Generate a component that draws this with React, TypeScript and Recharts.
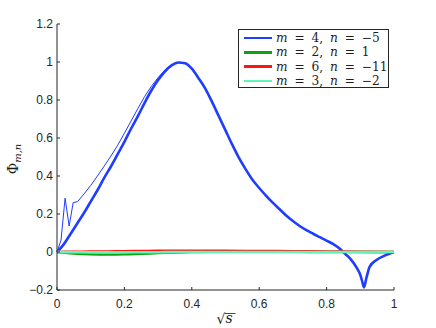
import { LineChart, Line, XAxis, YAxis, Legend } from "recharts";

const sTicks = [0, 0.2, 0.4, 0.6, 0.8, 1];
const phiTicks = [-0.2, 0, 0.2, 0.4, 0.6, 0.8, 1, 1.2];

const mValues = [4, 2, 6, 3];
const nValues = [-5, 1, -11, -2];
const seriesColors = ["#1f3dff", "#13a013", "#ff1414", "#60f5b8"];

// m = 4, n = -5 (thick)
const sMain = [
  0, 0.02, 0.04, 0.06, 0.08, 0.1, 0.12, 0.14, 0.16, 0.18, 0.2, 0.22, 0.24, 0.26,
  0.28, 0.3, 0.32, 0.34, 0.36, 0.38, 0.4, 0.42, 0.44, 0.46, 0.48, 0.5, 0.52,
  0.54, 0.56, 0.58, 0.6, 0.62, 0.64, 0.66, 0.68, 0.7, 0.72, 0.74, 0.76, 0.78,
  0.8, 0.82, 0.84, 0.85, 0.87, 0.89, 0.9, 0.905, 0.911, 0.918, 0.928, 0.948,
  0.972, 1,
];
const phiMain = [
  0, 0.04, 0.095, 0.15, 0.205, 0.265, 0.325, 0.39, 0.45, 0.515, 0.58, 0.65,
  0.715, 0.785, 0.85, 0.905, 0.95, 0.982, 0.997, 0.993, 0.965, 0.915, 0.86,
  0.79, 0.715, 0.64, 0.565, 0.495, 0.435, 0.38, 0.337, 0.297, 0.26, 0.226,
  0.192, 0.163, 0.137, 0.115, 0.096, 0.078, 0.06, 0.041, 0.016, -0.002, -0.035,
  -0.085, -0.12, -0.15, -0.186, -0.137, -0.077, -0.042, -0.019, 0,
];

// m = 4, n = -5 (thin, coarse run)
const sThin = [
  0, 0.012, 0.024, 0.036, 0.048, 0.061, 0.08, 0.1, 0.12, 0.14, 0.16, 0.18, 0.2,
  0.22, 0.24, 0.26, 0.28, 0.3, 0.32, 0.34, 0.36, 0.38,
];
const phiThin = [
  0, 0.063, 0.283, 0.137, 0.26, 0.265, 0.305, 0.35, 0.4, 0.452, 0.505, 0.562,
  0.625, 0.69, 0.755, 0.818, 0.872, 0.918, 0.957, 0.985, 0.997, 0.993,
];

const sFlat = [0, 0.05, 0.1, 0.15, 0.2, 0.25, 0.3, 0.35, 0.4, 0.5, 0.6, 0.7, 0.8, 0.9, 1];
const phiGreen = [0, -0.008, -0.012, -0.013, -0.012, -0.009, -0.005, -0.002, 0, 0.001, 0.001, 0.001, 0, 0, 0];
const phiRed = [0, 0.001, 0.002, 0.003, 0.004, 0.005, 0.006, 0.006, 0.006, 0.006, 0.005, 0.004, 0.003, 0.001, 0];
const phiCyan = [0, -0.001, -0.002, -0.002, -0.002, -0.001, -0.001, 0, 0, 0, 0, 0, 0, 0, 0];

const toPoints = (s: number[], phi: number[]) => s.map((x, i) => ({ s: x, phi: phi[i] }));

const mainData = toPoints(sMain, phiMain);
const thinData = toPoints(sThin, phiThin).concat(mainData.filter((d) => d.s > 0.38));
const greenData = toPoints(sFlat, phiGreen);
const redData = toPoints(sFlat, phiRed);
const cyanData = toPoints(sFlat, phiCyan);

const AXIS = "#262626";
const SERIF = "'DejaVu Serif', serif";
const tickStyle = { fontSize: 12, fill: AXIS, fontFamily: "'Liberation Sans', Arial, sans-serif" };
const fmt = (v: number) => String(v).replace("-", "\u2212");

function PhiLabel(props: any) {
  const vb = props.viewBox ?? { y: 24, height: 266 };
  const cy = vb.y + vb.height / 2 + 2;
  return (
    <text
      transform={`translate(18, ${cy}) rotate(-90)`}
      textAnchor="middle"
      fontFamily={SERIF}
      fontSize={14}
      fill="#1a1a1a"
    >
      Φ
      <tspan fontStyle="italic" fontSize={10} dy={3}>
        m,n
      </tspan>
    </text>
  );
}

function SqrtSLabel(props: any) {
  const vb = props.viewBox ?? { x: 57, width: 337 };
  const cx = vb.x + vb.width / 2;
  return (
    <g>
      <text x={cx - 9} y={324} fontFamily={SERIF} fontSize={14} fill="#1a1a1a">
        √
      </text>
      <line x1={cx - 0.8} x2={cx + 10} y1={313.5} y2={313.5} stroke="#1a1a1a" strokeWidth={0.8} />
      <text x={cx} y={323} fontFamily={SERIF} fontStyle="italic" fontSize={14} fill="#1a1a1a">
        s
      </text>
    </g>
  );
}

// legend: math-style spacing around "=" like the LaTeX labels
function LegendBox() {
  return (
    <div
      style={{
        width: 151,
        height: 59,
        boxSizing: "border-box",
        border: `1px solid ${AXIS}`,
        background: "#fff",
        padding: "1px 0 0 5px",
        fontFamily: SERIF,
        fontSize: 12.2,
        wordSpacing: 3,
        color: "#1e1e1e",
      }}
    >
      {mValues.map((m, i) => (
        <div key={i} style={{ height: 14.3, display: "flex", alignItems: "center", whiteSpace: "pre" }}>
          <div style={{ width: 28, height: 2.5, background: seriesColors[i], marginRight: 4 }} />
          <span style={{ lineHeight: "14px" }}>
            <i>m</i>
            {" = " + m + ", "}
            <i>n</i>
            {" = " + fmt(nValues[i])}
          </span>
        </div>
      ))}
    </div>
  );
}

export default function App() {
  return (
    <div style={{ position: "absolute", left: 0, top: 0, width: 436, height: 328, background: "#fff" }}>
      <LineChart width={436} height={328} margin={{ top: 24, right: 42, bottom: 8, left: 0 }}>
        <XAxis
          dataKey="s"
          type="number"
          domain={[0, 1]}
          ticks={sTicks}
          tickFormatter={fmt}
          tick={tickStyle}
          tickSize={-3}
          tickMargin={12}
          height={30}
          stroke={AXIS}
          allowDuplicatedCategory={false}
          label={{ content: <SqrtSLabel /> }}
        />
        <XAxis
          xAxisId="top"
          orientation="top"
          type="number"
          domain={[0, 1]}
          ticks={sTicks}
          tick={false}
          tickSize={-3}
          height={0}
          stroke={AXIS}
        />
        <YAxis
          type="number"
          domain={[-0.2, 1.2]}
          ticks={phiTicks}
          tickFormatter={fmt}
          tick={tickStyle}
          tickSize={-3}
          tickMargin={7}
          width={57}
          stroke={AXIS}
          label={{ content: <PhiLabel /> }}
        />
        <YAxis
          yAxisId="right"
          orientation="right"
          type="number"
          domain={[-0.2, 1.2]}
          ticks={phiTicks}
          tick={false}
          tickSize={-3}
          width={0}
          stroke={AXIS}
        />
        <Legend
          layout="horizontal"
          verticalAlign="middle"
          align="center"
          wrapperStyle={{ top: 29, left: 238, width: 151, height: 59 }}
          content={() => <LegendBox />}
        />
        <Line
          data={mainData}
          dataKey="phi"
          type="monotone"
          stroke={seriesColors[0]}
          strokeWidth={2.6}
          dot={false}
          isAnimationActive={false}
        />
        <Line
          data={thinData}
          dataKey="phi"
          type="linear"
          stroke={seriesColors[0]}
          strokeWidth={1}
          dot={false}
          legendType="none"
          isAnimationActive={false}
        />
        <Line data={greenData} dataKey="phi" type="monotone" stroke={seriesColors[1]} strokeWidth={2.6} dot={false} isAnimationActive={false} />
        <Line data={redData} dataKey="phi" type="monotone" stroke={seriesColors[2]} strokeWidth={2.6} dot={false} isAnimationActive={false} />
        <Line data={cyanData} dataKey="phi" type="monotone" stroke={seriesColors[3]} strokeWidth={2.6} dot={false} isAnimationActive={false} />
      </LineChart>
    </div>
  );
}
